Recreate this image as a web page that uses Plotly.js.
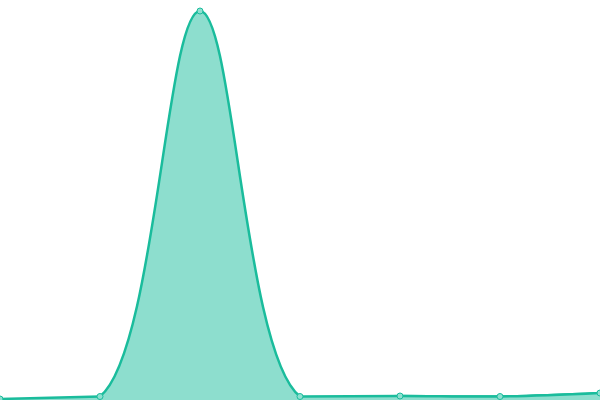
<!DOCTYPE html>
<html>
<head>
<meta charset="utf-8">
<script src="https://cdn.plot.ly/plotly-3.0.1.min.js"></script>
<style>html,body{margin:0;padding:0;background:#fff}</style>
</head>
<body>
<div id="chart" style="width:600px;height:400px"></div>
<script>
var xs = [0, 1, 2, 3, 4, 5, 6];
var ys = [1, 3.5, 389, 3.5, 4, 3.5, 7];

var teal = "#1abc9c";
var tealFill = "rgb(141,222,206)";

function area(from, to, shape){
    return {
        type: "scatter",
        mode: "lines",
        x: xs.slice(from, to + 1),
        y: ys.slice(from, to + 1),
        fill: "tozeroy",
        fillcolor: tealFill,
        line: {color: teal, width: 2.5, shape: shape, smoothing: 1},
        hoverinfo: "none"
    };
}

var dots = {
    type: "scatter",
    mode: "markers",
    x: xs,
    y: ys,
    marker: {size: 6, color: "#8ee0d0", line: {color: teal, width: 1}},
    hoverinfo: "none"
};

// whole curve first, then the flat ends on top so the spline dips get hidden
var data = [area(0, 6, "spline"), area(0, 1, "linear"), area(3, 6, "spline"), dots];

var layout = {
    width: 600,
    height: 400,
    margin: {l: 0, r: 0, t: 0, b: 0},
    showlegend: false,
    paper_bgcolor: "#fff",
    plot_bgcolor: "#fff",
    xaxis: {range: [0, 6], visible: false, fixedrange: true},
    yaxis: {range: [0, 400], visible: false, fixedrange: true}
};

Plotly.newPlot("chart", data, layout, {displayModeBar: false, staticPlot: true});
</script>
</body>
</html>
